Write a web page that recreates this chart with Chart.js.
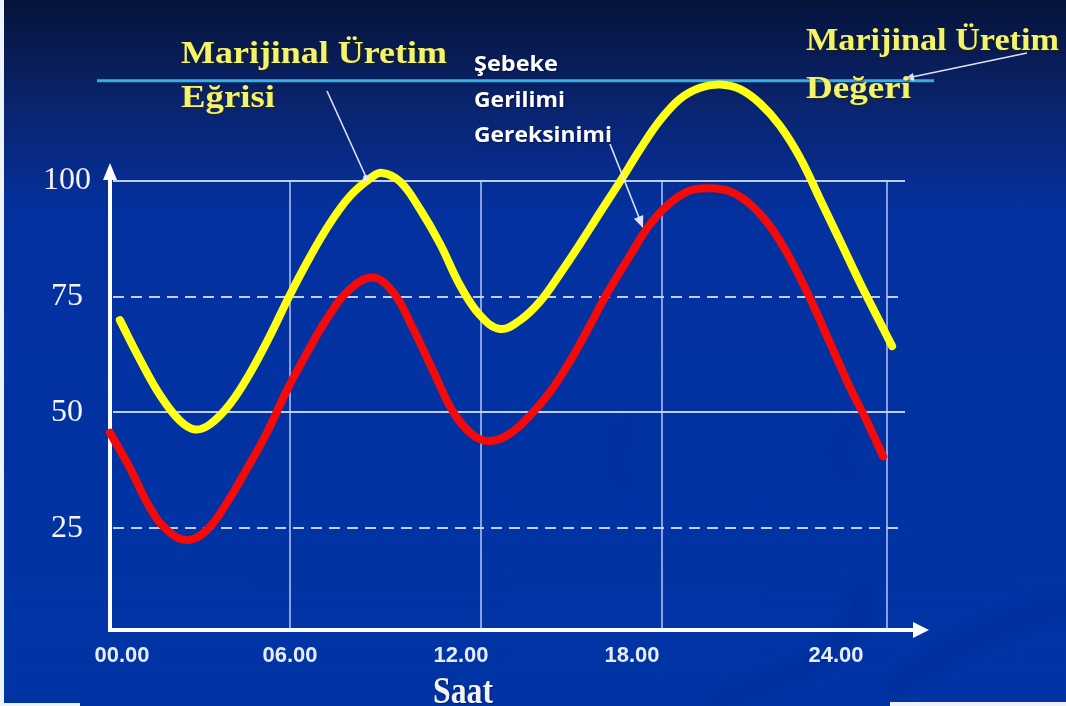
<!DOCTYPE html>
<html lang="tr">
<head>
<meta charset="utf-8">
<script src="https://cdn.jsdelivr.net/npm/chart.js@4.4.1/dist/chart.umd.min.js"></script>
<style>
  html, body { margin: 0; padding: 0; width: 1066px; height: 706px; overflow: hidden; background: #0033a0; }
  #wrap {
    position: absolute; left: 0; top: 0; width: 1066px; height: 706px;
    background: linear-gradient(to bottom, #061339 0px, #0a246e 105px, #0431a0 215px, #0034a5 706px);
  }
  #chart { position: absolute; left: 0; top: 0; }
  .edge { position: absolute; background: #eef2fb; }
</style>
</head>
<body>
<div id="wrap"><canvas id="chart" width="1066" height="706"></canvas></div>
<div class="edge" style="left:0;top:0;width:4px;height:706px"></div>
<div class="edge" style="left:0;top:703px;width:80px;height:3px"></div>
<div class="edge" style="left:890px;top:702px;width:176px;height:4px"></div>
<script>
// hours of the day (x) and values (y)
const yellowHours = [0.33, 1.0, 1.67, 2.33, 2.83, 3.33, 4.0, 4.67, 5.33, 6.0, 6.67, 7.33, 8.0, 8.67, 9.07, 9.67, 10.33, 11.0, 11.67, 12.33, 13.0, 13.67, 14.33, 15.0, 15.67, 16.33, 17.0, 17.67, 18.33, 19.0, 19.67, 20.33, 21.0, 21.67, 22.33, 23.0, 23.67, 24.33, 25.0, 25.67, 26.07];
const yellowValues = [69.9, 61.4, 53.7, 48.2, 46.3, 47.4, 51.8, 58.5, 66.5, 75.4, 83.6, 90.8, 96.7, 100.5, 101.7, 99.8, 93.9, 86.4, 77.4, 71.0, 68.0, 69.9, 73.9, 79.9, 86.4, 93.1, 99.8, 106.8, 113.0, 117.7, 120.1, 120.8, 119.8, 116.7, 111.9, 105.0, 96.0, 87.1, 78.0, 69.4, 64.3];

const redHours = [0, 0.67, 1.33, 1.9, 2.57, 3.23, 3.9, 4.57, 5.23, 5.9, 6.57, 7.23, 7.9, 8.73, 9.43, 10.1, 10.77, 11.43, 12.1, 12.67, 13.33, 14.0, 14.67, 15.33, 16.0, 16.5, 17.33, 18.0, 18.67, 19.33, 20.0, 20.67, 21.33, 22.0, 22.67, 23.33, 24.0, 24.67, 25.17, 25.77];
const redValues = [45.6, 37.9, 29.4, 24.6, 22.4, 24.6, 30.5, 37.9, 45.6, 54.8, 62.9, 70.2, 76.0, 79.1, 76.0, 68.1, 59.0, 50.2, 45.1, 43.8, 45.4, 49.3, 54.4, 61.0, 68.8, 74.9, 83.8, 90.6, 95.2, 97.9, 98.4, 97.7, 95.0, 90.2, 83.2, 74.7, 65.0, 55.3, 48.9, 40.5];

const marginalValue = 121.6; // "Marijinal Üretim Değeri" level

const yTickValues = [25, 50, 75, 100];
const dashedLevels = [25, 75];
const xTickHours = [0.4, 6, 11.7, 17.4, 24.2];
const xTickLabels = ["00.00", "06.00", "12.00", "18.00", "24.00"];
const xGridHours = [6, 12.37, 18.4, 25.9];

function toPoints(hours, values) {
  return hours.map((h, i) => ({ x: h, y: values[i] }));
}

function fitText(ctx, text, x, baseline, width, font, color, stretchY) {
  ctx.save();
  ctx.font = font;
  const w = ctx.measureText(text).width;
  ctx.translate(x, baseline);
  ctx.scale(width / w, stretchY || 1);
  ctx.fillStyle = color;
  ctx.textBaseline = "alphabetic";
  ctx.fillText(text, 0, 0);
  ctx.restore();
}

function line(ctx, x1, y1, x2, y2) {
  ctx.beginPath();
  ctx.moveTo(x1, y1);
  ctx.lineTo(x2, y2);
  ctx.stroke();
}

function arrowHead(ctx, tipX, tipY, fromX, fromY, len, half) {
  const a = Math.atan2(tipY - fromY, tipX - fromX);
  ctx.beginPath();
  ctx.moveTo(tipX, tipY);
  ctx.lineTo(tipX - len * Math.cos(a) + half * Math.sin(a), tipY - len * Math.sin(a) - half * Math.cos(a));
  ctx.lineTo(tipX - len * Math.cos(a) - half * Math.sin(a), tipY - len * Math.sin(a) + half * Math.cos(a));
  ctx.closePath();
  ctx.fill();
}

const decor = {
  id: "decor",
  beforeDraw(chart) {
    // faint background swooshes
    const ctx = chart.ctx;
    ctx.save();
    ctx.strokeStyle = "rgba(0, 24, 110, 0.14)";
    ctx.lineCap = "round";
    ctx.filter = "blur(6px)";
    ctx.lineWidth = 12;
    ctx.beginPath();
    ctx.arc(650, 458, 36, 2.2, 4.1);
    ctx.stroke();
    ctx.beginPath();
    ctx.arc(870, 452, 32, 2.2, 4.1);
    ctx.stroke();
    ctx.lineWidth = 18;
    ctx.beginPath();
    ctx.moveTo(720, 700);
    ctx.quadraticCurveTo(880, 650, 860, 590);
    ctx.stroke();
    ctx.lineWidth = 20;
    ctx.beginPath();
    ctx.moveTo(890, 690);
    ctx.quadraticCurveTo(980, 625, 1066, 605);
    ctx.stroke();
    ctx.restore();
  },
  beforeDatasetsDraw(chart) {
    const { ctx, scales: { x, y } } = chart;
    ctx.save();
    ctx.strokeStyle = "rgba(212, 224, 255, 0.9)";
    ctx.lineWidth = 2;
    yTickValues.forEach((v) => {
      const py = Math.round(y.getPixelForValue(v));
      ctx.setLineDash(dashedLevels.includes(v) ? [11, 7] : []);
      line(ctx, x.left + 3, py, x.right, py);
    });
    ctx.setLineDash([]);
    ctx.lineWidth = 1.6;
    ctx.strokeStyle = "rgba(200, 214, 255, 0.85)";
    const top = y.getPixelForValue(100);
    xGridHours.forEach((h) => {
      const px = Math.round(x.getPixelForValue(h));
      line(ctx, px, top, px, y.bottom);
    });

    // marginal value reference line
    const cy = y.getPixelForValue(marginalValue);
    ctx.strokeStyle = "#3aaee0";
    ctx.lineWidth = 3;
    line(ctx, 97, cy, 934, cy);

    // axes with arrows
    ctx.strokeStyle = "#ffffff";
    ctx.fillStyle = "#ffffff";
    ctx.lineWidth = 4;
    line(ctx, x.left, y.bottom + 2, x.left, 176);
    arrowHead(ctx, x.left, 163, x.left, 200, 17, 7);
    line(ctx, x.left - 2, y.bottom, 916, y.bottom);
    arrowHead(ctx, 929, y.bottom, 880, y.bottom, 16, 8);
    ctx.restore();
  },
  afterDatasetsDraw(chart) {
    const ctx = chart.ctx;
    ctx.save();
    ctx.strokeStyle = "rgba(232, 236, 255, 0.95)";
    ctx.fillStyle = "rgba(232, 236, 255, 0.95)";
    ctx.lineWidth = 1.6;
    // pointer to the yellow curve
    line(ctx, 327, 91, 366, 177);
    ctx.beginPath();
    ctx.arc(366, 178, 3, 0, Math.PI * 2);
    ctx.fill();
    // pointer to the red curve
    line(ctx, 610, 144, 640, 220);
    arrowHead(ctx, 643, 228, 610, 144, 12, 5);
    // pointer to the marginal value line
    line(ctx, 1027, 53, 912, 77);
    arrowHead(ctx, 904, 79, 1027, 53, 10, 4);

    const serif = "bold 31px 'Liberation Serif', 'Times New Roman', serif";
    const yellowText = "#f4f46a";
    ctx.shadowColor = "rgba(40, 40, 0, 0.85)";
    ctx.shadowBlur = 2;
    ctx.shadowOffsetX = 1;
    ctx.shadowOffsetY = 1;
    fitText(ctx, "Marijinal Üretim", 181, 63, 266, serif, yellowText, 1.05);
    fitText(ctx, "Eğrisi", 181, 107, 94, serif, yellowText, 1.05);
    fitText(ctx, "Marijinal Üretim", 806, 50, 253, serif, yellowText, 1.05);
    fitText(ctx, "Değeri", 806, 98, 105, serif, yellowText, 1.05);

    ctx.shadowColor = "rgba(0, 0, 40, 0.5)";
    const sans = "bold 19px 'Open Sans', 'Liberation Sans', sans-serif";
    fitText(ctx, "Şebeke", 474, 71, 84, sans, "#ffffff", 1.1);
    fitText(ctx, "Gerilimi", 474, 107, 91, sans, "#ffffff", 1.1);
    fitText(ctx, "Gereksinimi", 474, 142, 138, sans, "#ffffff", 1.1);

    fitText(ctx, "Saat", 433, 703, 60, "bold 32px 'Liberation Serif', 'Times New Roman', serif", "#f2f4fa", 1.2);
    ctx.restore();
  }
};

new Chart(document.getElementById("chart"), {
  type: "line",
  data: {
    datasets: [
      {
        label: "Marijinal Üretim Eğrisi",
        data: toPoints(yellowHours, yellowValues),
        borderColor: "#ffff14",
        borderWidth: 8,
        pointRadius: 0,
        tension: 0.4,
        borderCapStyle: "round",
        borderJoinStyle: "round",
        clip: false,
      },
      {
        label: "Şebeke Gerilimi Gereksinimi",
        data: toPoints(redHours, redValues),
        borderColor: "#f50a0a",
        borderWidth: 8,
        pointRadius: 0,
        tension: 0.4,
        borderCapStyle: "round",
        borderJoinStyle: "round",
        clip: false,
      },
    ],
  },
  options: {
    responsive: false,
    animation: false,
    events: [],
    layout: { padding: { top: 65, right: 161, left: 0, bottom: 0 } },
    plugins: { legend: { display: false }, tooltip: { enabled: false } },
    scales: {
      x: {
        type: "linear",
        min: 0,
        max: 26.5,
        grid: { display: false, drawTicks: false },
        border: { display: false },
        afterBuildTicks: (s) => {
          s.ticks = xTickHours.map((v) => ({ value: v }));
        },
        afterFit: (s) => {
          s.height = 76;
        },
        ticks: {
          autoSkip: false,
          maxRotation: 0,
          padding: 13,
          color: "#e6edf9",
          font: { family: "'Liberation Sans', Arial, sans-serif", size: 22, weight: "bold" },
          callback: (v, i) => xTickLabels[i],
        },
      },
      y: {
        type: "linear",
        min: 3,
        max: 125,
        grid: { display: false, drawTicks: false },
        border: { display: false },
        afterBuildTicks: (s) => {
          s.ticks = yTickValues.map((v) => ({ value: v }));
        },
        afterFit: (s) => {
          s.width = 110;
        },
        ticks: {
          crossAlign: "center",
          padding: 19,
          color: "#f4f5fa",
          font: { family: "'Liberation Serif', 'Times New Roman', serif", size: 32 },
          callback: (v) => String(v),
        },
      },
    },
  },
  plugins: [decor],
});
</script>
</body>
</html>
